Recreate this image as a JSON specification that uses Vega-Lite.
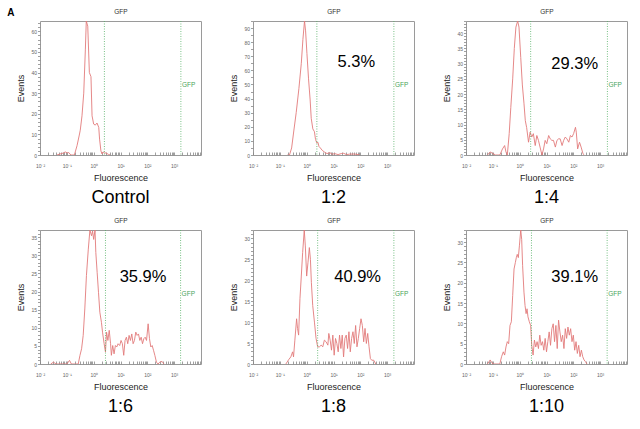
{
  "$schema": "https://vega.github.io/schema/vega-lite/v6.json",
  "padding": {"left": 7, "top": 7, "right": 5, "bottom": 5},
  "title": {"text": "A", "orient": "left", "anchor": "end", "angle": 0, "fontSize": 10, "fontWeight": "bold", "offset": 1, "baseline": "top", "align": "left", "color": "#000"},
  "datasets": {
    "control": [
      {"log_fl": -1.37, "events": 0}, {"log_fl": -1.25, "events": 0.5}, {"log_fl": -1.12, "events": 1}, {"log_fl": -1.06, "events": 1.5},
      {"log_fl": -0.98, "events": 1}, {"log_fl": -0.93, "events": 1.2}, {"log_fl": -0.85, "events": 0}, {"log_fl": -0.72, "events": 0},
      {"log_fl": -0.62, "events": 4.5}, {"log_fl": -0.535, "events": 9.7}, {"log_fl": -0.5, "events": 12}, {"log_fl": -0.435, "events": 19},
      {"log_fl": -0.37, "events": 30}, {"log_fl": -0.31, "events": 51}, {"log_fl": -0.275, "events": 65}, {"log_fl": -0.22, "events": 62.5},
      {"log_fl": -0.16, "events": 40}, {"log_fl": -0.1, "events": 38}, {"log_fl": -0.06, "events": 19}, {"log_fl": 0.0, "events": 15},
      {"log_fl": 0.06, "events": 14.5}, {"log_fl": 0.125, "events": 15.5}, {"log_fl": 0.19, "events": 13.4}, {"log_fl": 0.22, "events": 7.7},
      {"log_fl": 0.27, "events": 2}, {"log_fl": 0.31, "events": 0.5}, {"log_fl": 0.35, "events": 1.5}, {"log_fl": 0.4, "events": 1},
      {"log_fl": 0.46, "events": 1}, {"log_fl": 0.55, "events": 0.3}, {"log_fl": 0.62, "events": 0}
    ],
    "r2": [
      {"log_fl": -0.72, "events": 0}, {"log_fl": -0.64, "events": 0}, {"log_fl": -0.56, "events": 5}, {"log_fl": -0.48, "events": 17},
      {"log_fl": -0.39, "events": 30}, {"log_fl": -0.29, "events": 47}, {"log_fl": -0.2, "events": 65}, {"log_fl": -0.14, "events": 82},
      {"log_fl": -0.08, "events": 95}, {"log_fl": -0.04, "events": 88}, {"log_fl": 0.01, "events": 72}, {"log_fl": 0.07, "events": 54},
      {"log_fl": 0.13, "events": 39}, {"log_fl": 0.17, "events": 26}, {"log_fl": 0.23, "events": 18.5}, {"log_fl": 0.29, "events": 16.5},
      {"log_fl": 0.33, "events": 11}, {"log_fl": 0.38, "events": 8.5}, {"log_fl": 0.42, "events": 9}, {"log_fl": 0.46, "events": 6},
      {"log_fl": 0.51, "events": 5}, {"log_fl": 0.58, "events": 3.3}, {"log_fl": 0.67, "events": 2}, {"log_fl": 0.76, "events": 1},
      {"log_fl": 0.86, "events": 1.7}, {"log_fl": 0.96, "events": 0.5}, {"log_fl": 1.04, "events": 1}, {"log_fl": 1.17, "events": 0.3},
      {"log_fl": 1.29, "events": 1}, {"log_fl": 1.38, "events": 1.2}, {"log_fl": 1.48, "events": 0.3}, {"log_fl": 1.6, "events": 0.6},
      {"log_fl": 1.79, "events": 0.7}, {"log_fl": 1.98, "events": 0}
    ],
    "r4": [
      {"log_fl": -1.2, "events": 0}, {"log_fl": -1.1, "events": 1}, {"log_fl": -1.0, "events": 0.5}, {"log_fl": -0.9, "events": 0},
      {"log_fl": -0.74, "events": 0}, {"log_fl": -0.64, "events": 2}, {"log_fl": -0.56, "events": 3.1}, {"log_fl": -0.51, "events": 1},
      {"log_fl": -0.46, "events": 0}, {"log_fl": -0.39, "events": 7}, {"log_fl": -0.33, "events": 15.6}, {"log_fl": -0.26, "events": 25},
      {"log_fl": -0.2, "events": 35}, {"log_fl": -0.14, "events": 42}, {"log_fl": -0.075, "events": 44}, {"log_fl": -0.025, "events": 42},
      {"log_fl": 0.04, "events": 32}, {"log_fl": 0.1, "events": 23}, {"log_fl": 0.16, "events": 17}, {"log_fl": 0.21, "events": 11.3},
      {"log_fl": 0.26, "events": 9}, {"log_fl": 0.33, "events": 4.2}, {"log_fl": 0.39, "events": 7.5}, {"log_fl": 0.45, "events": 5.9},
      {"log_fl": 0.51, "events": 7}, {"log_fl": 0.58, "events": 3.1}, {"log_fl": 0.64, "events": 6.4}, {"log_fl": 0.7, "events": 4.8},
      {"log_fl": 0.76, "events": 2.6}, {"log_fl": 0.83, "events": 0}, {"log_fl": 0.89, "events": 2}, {"log_fl": 0.95, "events": 4.8},
      {"log_fl": 1.01, "events": 3.7}, {"log_fl": 1.08, "events": 6.4}, {"log_fl": 1.14, "events": 5.3}, {"log_fl": 1.2, "events": 4.8},
      {"log_fl": 1.26, "events": 4.8}, {"log_fl": 1.33, "events": 2.6}, {"log_fl": 1.39, "events": 4.8}, {"log_fl": 1.45, "events": 5.3},
      {"log_fl": 1.51, "events": 5.3}, {"log_fl": 1.58, "events": 3.1}, {"log_fl": 1.64, "events": 4.8}, {"log_fl": 1.7, "events": 5.9},
      {"log_fl": 1.76, "events": 5.3}, {"log_fl": 1.83, "events": 4.2}, {"log_fl": 1.89, "events": 6.4}, {"log_fl": 1.95, "events": 5.9},
      {"log_fl": 2.01, "events": 7}, {"log_fl": 2.08, "events": 9.1}, {"log_fl": 2.11, "events": 7.5}, {"log_fl": 2.16, "events": 2},
      {"log_fl": 2.23, "events": 4.2}, {"log_fl": 2.29, "events": 2.6}, {"log_fl": 2.36, "events": 0.4}, {"log_fl": 2.41, "events": 0}
    ],
    "r6": [
      {"log_fl": -1.6, "events": 0}, {"log_fl": -1.5, "events": 0.5}, {"log_fl": -1.4, "events": 0}, {"log_fl": -1.0, "events": 0},
      {"log_fl": -0.9, "events": 1}, {"log_fl": -0.83, "events": 0}, {"log_fl": -0.575, "events": 0}, {"log_fl": -0.51, "events": 2.4},
      {"log_fl": -0.45, "events": 4.2}, {"log_fl": -0.39, "events": 7.9}, {"log_fl": -0.33, "events": 15.2}, {"log_fl": -0.27, "events": 24.4},
      {"log_fl": -0.2, "events": 31.7}, {"log_fl": -0.14, "events": 37}, {"log_fl": -0.08, "events": 35.4}, {"log_fl": -0.04, "events": 36.7},
      {"log_fl": 0.0, "events": 34.4}, {"log_fl": 0.05, "events": 37}, {"log_fl": 0.08, "events": 30.8}, {"log_fl": 0.13, "events": 25.3},
      {"log_fl": 0.18, "events": 19.8}, {"log_fl": 0.23, "events": 14.3}, {"log_fl": 0.29, "events": 11.5}, {"log_fl": 0.33, "events": 8.8},
      {"log_fl": 0.39, "events": 5.6}, {"log_fl": 0.44, "events": 3.3}, {"log_fl": 0.48, "events": 8.8}, {"log_fl": 0.53, "events": 6.5},
      {"log_fl": 0.58, "events": 9.3}, {"log_fl": 0.63, "events": 5.6}, {"log_fl": 0.66, "events": 2.4}, {"log_fl": 0.71, "events": 5.1},
      {"log_fl": 0.76, "events": 2.8}, {"log_fl": 0.81, "events": 5.1}, {"log_fl": 0.86, "events": 4.7}, {"log_fl": 0.91, "events": 5.6},
      {"log_fl": 0.97, "events": 5.1}, {"log_fl": 1.02, "events": 6.5}, {"log_fl": 1.07, "events": 5.6}, {"log_fl": 1.12, "events": 2.4},
      {"log_fl": 1.17, "events": 6.5}, {"log_fl": 1.22, "events": 7.4}, {"log_fl": 1.27, "events": 5.6}, {"log_fl": 1.32, "events": 7.9},
      {"log_fl": 1.37, "events": 6.5}, {"log_fl": 1.42, "events": 8.3}, {"log_fl": 1.47, "events": 5.6}, {"log_fl": 1.52, "events": 6.5},
      {"log_fl": 1.57, "events": 8.8}, {"log_fl": 1.62, "events": 7.9}, {"log_fl": 1.67, "events": 8.3}, {"log_fl": 1.72, "events": 6.5},
      {"log_fl": 1.77, "events": 7.4}, {"log_fl": 1.82, "events": 5.6}, {"log_fl": 1.87, "events": 7.0}, {"log_fl": 1.92, "events": 7.4},
      {"log_fl": 1.97, "events": 6.5}, {"log_fl": 2.03, "events": 11.1}, {"log_fl": 2.08, "events": 7.0}, {"log_fl": 2.13, "events": 4.7},
      {"log_fl": 2.18, "events": 5.1}, {"log_fl": 2.23, "events": 3.8}, {"log_fl": 2.28, "events": 2.4}, {"log_fl": 2.34, "events": 0.5},
      {"log_fl": 2.4, "events": 0}, {"log_fl": 2.46, "events": 0.5}, {"log_fl": 2.55, "events": 0.7}, {"log_fl": 2.62, "events": 0}
    ],
    "r8": [
      {"log_fl": -0.775, "events": 0}, {"log_fl": -0.675, "events": 1}, {"log_fl": -0.59, "events": 1.7}, {"log_fl": -0.525, "events": 2.9},
      {"log_fl": -0.49, "events": 1.7}, {"log_fl": -0.44, "events": 5.7}, {"log_fl": -0.375, "events": 10.8}, {"log_fl": -0.34, "events": 8.5},
      {"log_fl": -0.3, "events": 6.9}, {"log_fl": -0.25, "events": 15.6}, {"log_fl": -0.2, "events": 21}, {"log_fl": -0.15, "events": 26.6},
      {"log_fl": -0.09, "events": 32}, {"log_fl": -0.05, "events": 28.2}, {"log_fl": 0.0, "events": 21}, {"log_fl": 0.05, "events": 24.3},
      {"log_fl": 0.1, "events": 27.8}, {"log_fl": 0.14, "events": 25}, {"log_fl": 0.175, "events": 19.5}, {"log_fl": 0.225, "events": 14},
      {"log_fl": 0.29, "events": 10}, {"log_fl": 0.35, "events": 6.1}, {"log_fl": 0.41, "events": 4.1}, {"log_fl": 0.475, "events": 4.1},
      {"log_fl": 0.54, "events": 4.5}, {"log_fl": 0.6, "events": 4.1}, {"log_fl": 0.66, "events": 5.7}, {"log_fl": 0.725, "events": 5.3},
      {"log_fl": 0.79, "events": 4.5}, {"log_fl": 0.825, "events": 7.3}, {"log_fl": 0.875, "events": 5.7}, {"log_fl": 0.925, "events": 3.3},
      {"log_fl": 0.975, "events": 6.9}, {"log_fl": 1.025, "events": 2.1}, {"log_fl": 1.075, "events": 6.1}, {"log_fl": 1.125, "events": 4.9},
      {"log_fl": 1.175, "events": 2.9}, {"log_fl": 1.225, "events": 6.9}, {"log_fl": 1.275, "events": 3.7}, {"log_fl": 1.325, "events": 6.9},
      {"log_fl": 1.375, "events": 1.7}, {"log_fl": 1.425, "events": 6.1}, {"log_fl": 1.475, "events": 6.9}, {"log_fl": 1.525, "events": 3.7},
      {"log_fl": 1.575, "events": 7.7}, {"log_fl": 1.625, "events": 2.9}, {"log_fl": 1.675, "events": 6.1}, {"log_fl": 1.725, "events": 7.7},
      {"log_fl": 1.775, "events": 4.9}, {"log_fl": 1.825, "events": 9.2}, {"log_fl": 1.875, "events": 4.1}, {"log_fl": 1.925, "events": 6.1},
      {"log_fl": 1.975, "events": 8.5}, {"log_fl": 2.025, "events": 10.8}, {"log_fl": 2.075, "events": 9.2}, {"log_fl": 2.125, "events": 5.3},
      {"log_fl": 2.175, "events": 8.5}, {"log_fl": 2.225, "events": 4.9}, {"log_fl": 2.275, "events": 7.3}, {"log_fl": 2.325, "events": 4.1},
      {"log_fl": 2.375, "events": 1.3}, {"log_fl": 2.425, "events": 0.9}, {"log_fl": 2.5, "events": 0.9}, {"log_fl": 2.575, "events": 0}
    ],
    "r10": [
      {"log_fl": -1.2, "events": 0}, {"log_fl": -1.1, "events": 1}, {"log_fl": -1.0, "events": 0}, {"log_fl": -0.74, "events": 0},
      {"log_fl": -0.675, "events": 1.8}, {"log_fl": -0.61, "events": 3}, {"log_fl": -0.56, "events": 2.2}, {"log_fl": -0.51, "events": 4.2},
      {"log_fl": -0.46, "events": 5.5}, {"log_fl": -0.41, "events": 5}, {"log_fl": -0.36, "events": 9.5}, {"log_fl": -0.31, "events": 10.4},
      {"log_fl": -0.26, "events": 16.9}, {"log_fl": -0.21, "events": 23.4}, {"log_fl": -0.16, "events": 25}, {"log_fl": -0.125, "events": 26.2},
      {"log_fl": -0.09, "events": 27}, {"log_fl": -0.05, "events": 26.2}, {"log_fl": -0.01, "events": 29.1}, {"log_fl": 0.04, "events": 33},
      {"log_fl": 0.075, "events": 30.7}, {"log_fl": 0.11, "events": 24.2}, {"log_fl": 0.16, "events": 17.7}, {"log_fl": 0.2, "events": 14.4},
      {"log_fl": 0.24, "events": 12.4}, {"log_fl": 0.275, "events": 13.6}, {"log_fl": 0.31, "events": 11.6}, {"log_fl": 0.36, "events": 10.4},
      {"log_fl": 0.41, "events": 9.5}, {"log_fl": 0.45, "events": 4.6}, {"log_fl": 0.5, "events": 2.2}, {"log_fl": 0.55, "events": 5.9},
      {"log_fl": 0.6, "events": 4.2}, {"log_fl": 0.65, "events": 5.5}, {"log_fl": 0.7, "events": 3.8}, {"log_fl": 0.75, "events": 7.1},
      {"log_fl": 0.8, "events": 4.6}, {"log_fl": 0.85, "events": 5.5}, {"log_fl": 0.9, "events": 3.4}, {"log_fl": 0.95, "events": 6.3},
      {"log_fl": 1.0, "events": 3}, {"log_fl": 1.05, "events": 5.5}, {"log_fl": 1.1, "events": 7.9}, {"log_fl": 1.15, "events": 4.6},
      {"log_fl": 1.2, "events": 8.7}, {"log_fl": 1.25, "events": 9.9}, {"log_fl": 1.3, "events": 5.5}, {"log_fl": 1.35, "events": 9.5},
      {"log_fl": 1.4, "events": 3.8}, {"log_fl": 1.45, "events": 10.8}, {"log_fl": 1.5, "events": 7.9}, {"log_fl": 1.55, "events": 5.5},
      {"log_fl": 1.6, "events": 7.1}, {"log_fl": 1.65, "events": 3.8}, {"log_fl": 1.7, "events": 8.7}, {"log_fl": 1.75, "events": 6.3},
      {"log_fl": 1.8, "events": 9.1}, {"log_fl": 1.85, "events": 7.1}, {"log_fl": 1.9, "events": 8.7}, {"log_fl": 1.95, "events": 5.5},
      {"log_fl": 2.0, "events": 7.1}, {"log_fl": 2.05, "events": 3.4}, {"log_fl": 2.1, "events": 5.5}, {"log_fl": 2.15, "events": 2.6},
      {"log_fl": 2.2, "events": 4.6}, {"log_fl": 2.25, "events": 1.8}, {"log_fl": 2.3, "events": 3.4}, {"log_fl": 2.35, "events": 1.8},
      {"log_fl": 2.4, "events": 1}, {"log_fl": 2.45, "events": 0.6}, {"log_fl": 2.51, "events": 0}
    ],
    "one": [{}]
  },
  "columns": 3,
  "spacing": {"row": 8, "column": 26},
  "concat": [
    {
      "width": 161, "height": 134,
      "title": {"text": "Control"},
      "resolve": {"axis": {"x": "independent"}},
      "layer": [
        {"data": {"name": "control"}, "mark": {"type": "line", "clip": true, "color": "#e27b7b", "strokeWidth": 0.9},
         "encoding": {
           "x": {"field": "log_fl", "type": "quantitative", "scale": {"domain": [-2, 4], "nice": false, "zero": false},
                 "axis": {"orient": "bottom", "title": "Fluorescence", "values": [-2,-1.699,-1.523,-1.398,-1.301,-1.222,-1.155,-1.097,-1.046,-1,-0.699,-0.523,-0.398,-0.301,-0.222,-0.155,-0.097,-0.046,0,0.301,0.477,0.602,0.699,0.778,0.845,0.903,0.954,1,1.301,1.477,1.602,1.699,1.778,1.845,1.903,1.954,2,2.301,2.477,2.602,2.699,2.778,2.845,2.903,2.954,3,3.301,3.477,3.602,3.699,3.778,3.845,3.903,3.954], "labelExpr": "datum.value === -2 ? '10⁻²' : datum.value === -1 ? '10⁻¹' : datum.value === 0 ? '10⁰' : datum.value === 1 ? '10¹' : datum.value === 2 ? '10²' : datum.value === 3 ? '10³' : ''"}},
           "y": {"field": "events", "type": "quantitative", "title": "Events", "scale": {"domain": [0, 65], "nice": false},
                 "axis": {"tickCount": 33, "labelExpr": "datum.value % 10 === 0 ? datum.label : ''"}}
         }},
        {"data": {"name": "one"}, "mark": {"type": "rule", "color": "#55b066", "strokeDash": [1, 1.5], "strokeWidth": 0.8},
         "encoding": {"x": {"datum": 0.4, "type": "quantitative", "axis": {"orient": "top", "title": "GFP"}}}},
        {"data": {"name": "one"}, "mark": {"type": "rule", "color": "#55b066", "strokeDash": [1, 1.5], "strokeWidth": 0.8},
         "encoding": {"x": {"datum": 3.25, "type": "quantitative", "axis": null}}},
        {"data": {"name": "one"}, "mark": {"type": "text", "align": "left", "baseline": "middle", "dx": 1, "fontSize": 6.5, "color": "#4aa55c"},
         "encoding": {"x": {"datum": 3.25, "type": "quantitative", "axis": null}, "y": {"datum": 33.8, "type": "quantitative", "title": "Events"}, "text": {"value": "GFP"}}}
      ]
    },
    {
      "width": 161, "height": 134,
      "title": {"text": "1:2"},
      "resolve": {"axis": {"x": "independent"}},
      "layer": [
        {"data": {"name": "r2"}, "mark": {"type": "line", "clip": true, "color": "#e27b7b", "strokeWidth": 0.9},
         "encoding": {
           "x": {"field": "log_fl", "type": "quantitative", "scale": {"domain": [-2, 4], "nice": false, "zero": false},
                 "axis": {"orient": "bottom", "title": "Fluorescence", "values": [-2,-1.699,-1.523,-1.398,-1.301,-1.222,-1.155,-1.097,-1.046,-1,-0.699,-0.523,-0.398,-0.301,-0.222,-0.155,-0.097,-0.046,0,0.301,0.477,0.602,0.699,0.778,0.845,0.903,0.954,1,1.301,1.477,1.602,1.699,1.778,1.845,1.903,1.954,2,2.301,2.477,2.602,2.699,2.778,2.845,2.903,2.954,3,3.301,3.477,3.602,3.699,3.778,3.845,3.903,3.954], "labelExpr": "datum.value === -2 ? '10⁻²' : datum.value === -1 ? '10⁻¹' : datum.value === 0 ? '10⁰' : datum.value === 1 ? '10¹' : datum.value === 2 ? '10²' : datum.value === 3 ? '10³' : ''"}},
           "y": {"field": "events", "type": "quantitative", "title": "Events", "scale": {"domain": [0, 95], "nice": false},
                 "axis": {"tickCount": 19, "labelExpr": "datum.value % 10 === 0 ? datum.label : ''"}}
         }},
        {"data": {"name": "one"}, "mark": {"type": "rule", "color": "#55b066", "strokeDash": [1, 1.5], "strokeWidth": 0.8},
         "encoding": {"x": {"datum": 0.38, "type": "quantitative", "axis": {"orient": "top", "title": "GFP"}}}},
        {"data": {"name": "one"}, "mark": {"type": "rule", "color": "#55b066", "strokeDash": [1, 1.5], "strokeWidth": 0.8},
         "encoding": {"x": {"datum": 3.25, "type": "quantitative", "axis": null}}},
        {"data": {"name": "one"}, "mark": {"type": "text", "align": "left", "baseline": "middle", "dx": 1, "fontSize": 6.5, "color": "#4aa55c"},
         "encoding": {"x": {"datum": 3.25, "type": "quantitative", "axis": null}, "y": {"datum": 49.8, "type": "quantitative", "title": "Events"}, "text": {"value": "GFP"}}},
        {"data": {"name": "one"}, "mark": {"type": "text", "fontSize": 16.5, "color": "#000", "baseline": "middle"},
         "encoding": {"x": {"datum": 1.85, "type": "quantitative", "axis": null}, "y": {"datum": 65.6, "type": "quantitative", "title": "Events"}, "text": {"value": "5.3%"}}}
      ]
    },
    {
      "width": 161, "height": 134,
      "title": {"text": "1:4"},
      "resolve": {"axis": {"x": "independent"}},
      "layer": [
        {"data": {"name": "r4"}, "mark": {"type": "line", "clip": true, "color": "#e27b7b", "strokeWidth": 0.9},
         "encoding": {
           "x": {"field": "log_fl", "type": "quantitative", "scale": {"domain": [-2, 4], "nice": false, "zero": false},
                 "axis": {"orient": "bottom", "title": "Fluorescence", "values": [-2,-1.699,-1.523,-1.398,-1.301,-1.222,-1.155,-1.097,-1.046,-1,-0.699,-0.523,-0.398,-0.301,-0.222,-0.155,-0.097,-0.046,0,0.301,0.477,0.602,0.699,0.778,0.845,0.903,0.954,1,1.301,1.477,1.602,1.699,1.778,1.845,1.903,1.954,2,2.301,2.477,2.602,2.699,2.778,2.845,2.903,2.954,3,3.301,3.477,3.602,3.699,3.778,3.845,3.903,3.954], "labelExpr": "datum.value === -2 ? '10⁻²' : datum.value === -1 ? '10⁻¹' : datum.value === 0 ? '10⁰' : datum.value === 1 ? '10¹' : datum.value === 2 ? '10²' : datum.value === 3 ? '10³' : ''"}},
           "y": {"field": "events", "type": "quantitative", "title": "Events", "scale": {"domain": [0, 44], "nice": false},
                 "axis": {"tickCount": 44, "labelExpr": "datum.value % 5 === 0 ? datum.label : ''"}}
         }},
        {"data": {"name": "one"}, "mark": {"type": "rule", "color": "#55b066", "strokeDash": [1, 1.5], "strokeWidth": 0.8},
         "encoding": {"x": {"datum": 0.41, "type": "quantitative", "axis": {"orient": "top", "title": "GFP"}}}},
        {"data": {"name": "one"}, "mark": {"type": "rule", "color": "#55b066", "strokeDash": [1, 1.5], "strokeWidth": 0.8},
         "encoding": {"x": {"datum": 3.27, "type": "quantitative", "axis": null}}},
        {"data": {"name": "one"}, "mark": {"type": "text", "align": "left", "baseline": "middle", "dx": 1, "fontSize": 6.5, "color": "#4aa55c"},
         "encoding": {"x": {"datum": 3.27, "type": "quantitative", "axis": null}, "y": {"datum": 23, "type": "quantitative", "title": "Events"}, "text": {"value": "GFP"}}},
        {"data": {"name": "one"}, "mark": {"type": "text", "fontSize": 16.5, "color": "#000", "baseline": "middle"},
         "encoding": {"x": {"datum": 2.05, "type": "quantitative", "axis": null}, "y": {"datum": 29.9, "type": "quantitative", "title": "Events"}, "text": {"value": "29.3%"}}}
      ]
    },
    {
      "width": 161, "height": 134,
      "title": {"text": "1:6"},
      "resolve": {"axis": {"x": "independent"}},
      "layer": [
        {"data": {"name": "r6"}, "mark": {"type": "line", "clip": true, "color": "#e27b7b", "strokeWidth": 0.9},
         "encoding": {
           "x": {"field": "log_fl", "type": "quantitative", "scale": {"domain": [-2, 4], "nice": false, "zero": false},
                 "axis": {"orient": "bottom", "title": "Fluorescence", "values": [-2,-1.699,-1.523,-1.398,-1.301,-1.222,-1.155,-1.097,-1.046,-1,-0.699,-0.523,-0.398,-0.301,-0.222,-0.155,-0.097,-0.046,0,0.301,0.477,0.602,0.699,0.778,0.845,0.903,0.954,1,1.301,1.477,1.602,1.699,1.778,1.845,1.903,1.954,2,2.301,2.477,2.602,2.699,2.778,2.845,2.903,2.954,3,3.301,3.477,3.602,3.699,3.778,3.845,3.903,3.954], "labelExpr": "datum.value === -2 ? '10⁻²' : datum.value === -1 ? '10⁻¹' : datum.value === 0 ? '10⁰' : datum.value === 1 ? '10¹' : datum.value === 2 ? '10²' : datum.value === 3 ? '10³' : ''"}},
           "y": {"field": "events", "type": "quantitative", "title": "Events", "scale": {"domain": [0, 37], "nice": false},
                 "axis": {"tickCount": 37, "labelExpr": "datum.value % 5 === 0 ? datum.label : ''"}}
         }},
        {"data": {"name": "one"}, "mark": {"type": "rule", "color": "#55b066", "strokeDash": [1, 1.5], "strokeWidth": 0.8},
         "encoding": {"x": {"datum": 0.44, "type": "quantitative", "axis": {"orient": "top", "title": "GFP"}}}},
        {"data": {"name": "one"}, "mark": {"type": "rule", "color": "#55b066", "strokeDash": [1, 1.5], "strokeWidth": 0.8},
         "encoding": {"x": {"datum": 3.24, "type": "quantitative", "axis": null}}},
        {"data": {"name": "one"}, "mark": {"type": "text", "align": "left", "baseline": "middle", "dx": 1, "fontSize": 6.5, "color": "#4aa55c"},
         "encoding": {"x": {"datum": 3.24, "type": "quantitative", "axis": null}, "y": {"datum": 19.2, "type": "quantitative", "title": "Events"}, "text": {"value": "GFP"}}},
        {"data": {"name": "one"}, "mark": {"type": "text", "fontSize": 16.5, "color": "#000", "baseline": "middle"},
         "encoding": {"x": {"datum": 1.84, "type": "quantitative", "axis": null}, "y": {"datum": 24.1, "type": "quantitative", "title": "Events"}, "text": {"value": "35.9%"}}}
      ]
    },
    {
      "width": 161, "height": 134,
      "title": {"text": "1:8"},
      "resolve": {"axis": {"x": "independent"}},
      "layer": [
        {"data": {"name": "r8"}, "mark": {"type": "line", "clip": true, "color": "#e27b7b", "strokeWidth": 0.9},
         "encoding": {
           "x": {"field": "log_fl", "type": "quantitative", "scale": {"domain": [-2, 4], "nice": false, "zero": false},
                 "axis": {"orient": "bottom", "title": "Fluorescence", "values": [-2,-1.699,-1.523,-1.398,-1.301,-1.222,-1.155,-1.097,-1.046,-1,-0.699,-0.523,-0.398,-0.301,-0.222,-0.155,-0.097,-0.046,0,0.301,0.477,0.602,0.699,0.778,0.845,0.903,0.954,1,1.301,1.477,1.602,1.699,1.778,1.845,1.903,1.954,2,2.301,2.477,2.602,2.699,2.778,2.845,2.903,2.954,3,3.301,3.477,3.602,3.699,3.778,3.845,3.903,3.954], "labelExpr": "datum.value === -2 ? '10⁻²' : datum.value === -1 ? '10⁻¹' : datum.value === 0 ? '10⁰' : datum.value === 1 ? '10¹' : datum.value === 2 ? '10²' : datum.value === 3 ? '10³' : ''"}},
           "y": {"field": "events", "type": "quantitative", "title": "Events", "scale": {"domain": [0, 32], "nice": false},
                 "axis": {"tickCount": 32, "labelExpr": "datum.value % 5 === 0 ? datum.label : ''"}}
         }},
        {"data": {"name": "one"}, "mark": {"type": "rule", "color": "#55b066", "strokeDash": [1, 1.5], "strokeWidth": 0.8},
         "encoding": {"x": {"datum": 0.41, "type": "quantitative", "axis": {"orient": "top", "title": "GFP"}}}},
        {"data": {"name": "one"}, "mark": {"type": "rule", "color": "#55b066", "strokeDash": [1, 1.5], "strokeWidth": 0.8},
         "encoding": {"x": {"datum": 3.25, "type": "quantitative", "axis": null}}},
        {"data": {"name": "one"}, "mark": {"type": "text", "align": "left", "baseline": "middle", "dx": 1, "fontSize": 6.5, "color": "#4aa55c"},
         "encoding": {"x": {"datum": 3.25, "type": "quantitative", "axis": null}, "y": {"datum": 16.6, "type": "quantitative", "title": "Events"}, "text": {"value": "GFP"}}},
        {"data": {"name": "one"}, "mark": {"type": "text", "fontSize": 16.5, "color": "#000", "baseline": "middle"},
         "encoding": {"x": {"datum": 1.9, "type": "quantitative", "axis": null}, "y": {"datum": 20.8, "type": "quantitative", "title": "Events"}, "text": {"value": "40.9%"}}}
      ]
    },
    {
      "width": 161, "height": 134,
      "title": {"text": "1:10"},
      "resolve": {"axis": {"x": "independent"}},
      "layer": [
        {"data": {"name": "r10"}, "mark": {"type": "line", "clip": true, "color": "#e27b7b", "strokeWidth": 0.9},
         "encoding": {
           "x": {"field": "log_fl", "type": "quantitative", "scale": {"domain": [-2, 4], "nice": false, "zero": false},
                 "axis": {"orient": "bottom", "title": "Fluorescence", "values": [-2,-1.699,-1.523,-1.398,-1.301,-1.222,-1.155,-1.097,-1.046,-1,-0.699,-0.523,-0.398,-0.301,-0.222,-0.155,-0.097,-0.046,0,0.301,0.477,0.602,0.699,0.778,0.845,0.903,0.954,1,1.301,1.477,1.602,1.699,1.778,1.845,1.903,1.954,2,2.301,2.477,2.602,2.699,2.778,2.845,2.903,2.954,3,3.301,3.477,3.602,3.699,3.778,3.845,3.903,3.954], "labelExpr": "datum.value === -2 ? '10⁻²' : datum.value === -1 ? '10⁻¹' : datum.value === 0 ? '10⁰' : datum.value === 1 ? '10¹' : datum.value === 2 ? '10²' : datum.value === 3 ? '10³' : ''"}},
           "y": {"field": "events", "type": "quantitative", "title": "Events", "scale": {"domain": [0, 33], "nice": false},
                 "axis": {"tickCount": 33, "labelExpr": "datum.value % 5 === 0 ? datum.label : ''"}}
         }},
        {"data": {"name": "one"}, "mark": {"type": "rule", "color": "#55b066", "strokeDash": [1, 1.5], "strokeWidth": 0.8},
         "encoding": {"x": {"datum": 0.44, "type": "quantitative", "axis": {"orient": "top", "title": "GFP"}}}},
        {"data": {"name": "one"}, "mark": {"type": "rule", "color": "#55b066", "strokeDash": [1, 1.5], "strokeWidth": 0.8},
         "encoding": {"x": {"datum": 3.26, "type": "quantitative", "axis": null}}},
        {"data": {"name": "one"}, "mark": {"type": "text", "align": "left", "baseline": "middle", "dx": 1, "fontSize": 6.5, "color": "#4aa55c"},
         "encoding": {"x": {"datum": 3.26, "type": "quantitative", "axis": null}, "y": {"datum": 17.2, "type": "quantitative", "title": "Events"}, "text": {"value": "GFP"}}},
        {"data": {"name": "one"}, "mark": {"type": "text", "fontSize": 16.5, "color": "#000", "baseline": "middle"},
         "encoding": {"x": {"datum": 2.05, "type": "quantitative", "axis": null}, "y": {"datum": 21.5, "type": "quantitative", "title": "Events"}, "text": {"value": "39.1%"}}}
      ]
    }
  ],
  "config": {
    "font": "Liberation Sans",
    "view": {"stroke": "#9a9a9a", "strokeWidth": 1},
    "axis": {"grid": false, "domain": false, "labelFont": "Liberation Sans", "labelFontSize": 5, "labelColor": "#666666", "tickColor": "#888888", "tickWidth": 0.8, "titleFont": "Liberation Sans", "titleFontSize": 9, "titleFontWeight": "normal", "titleColor": "#222222", "labelOverlap": false, "labelFlush": false},
    "axisY": {"tickSize": 2.5, "labelPadding": 1, "minExtent": 11, "maxExtent": 11, "titlePadding": 4},
    "axisBottom": {"tickSize": -3, "labelPadding": 11, "titlePadding": 5},
    "axisTop": {"labels": false, "ticks": false, "titlePadding": 7, "titleFontSize": 6.5, "titleColor": "#333333"},
    "title": {"orient": "bottom", "fontSize": 18, "fontWeight": "normal", "color": "#000000", "offset": 7, "font": "Liberation Sans"},
    "text": {"font": "Liberation Sans"}
  }
}
